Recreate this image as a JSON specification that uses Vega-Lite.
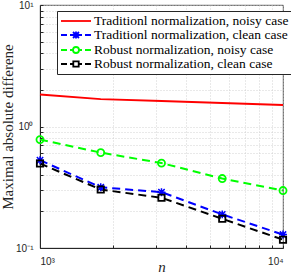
{
  "$schema": "https://vega.github.io/schema/vega-lite/v6.json",
  "width": 243,
  "height": 243,
  "autosize": "none",
  "padding": {"left": 40, "top": 5, "right": 8, "bottom": 32},
  "background": "white",
  "config": {
    "view": {"stroke": "#262626", "strokeWidth": 0.8},
    "axis": {
      "domainColor": "#262626",
      "tickColor": "#262626",
      "labelFont": "Liberation Sans",
      "labelFontSize": 10,
      "labelColor": "#262626",
      "gridColor": "#c8c8c8",
      "gridDash": [1, 2],
      "gridWidth": 0.8,
      "tickSize": -3,
      "labelPadding": 10,
      "titleFont": "Liberation Serif",
      "titleFontWeight": "normal",
      "titleFontSize": 15,
      "titleColor": "#262626"
    }
  },
  "data": {
    "values": [
      {"n": 1000, "v": 1.83, "s": "Traditionl normalization, noisy case"},
      {"n": 1778, "v": 1.68, "s": "Traditionl normalization, noisy case"},
      {"n": 3162, "v": 1.62, "s": "Traditionl normalization, noisy case"},
      {"n": 5623, "v": 1.56, "s": "Traditionl normalization, noisy case"},
      {"n": 10000, "v": 1.5, "s": "Traditionl normalization, noisy case"},
      {"n": 1000, "v": 0.528, "s": "Traditionl normalization, clean case"},
      {"n": 1778, "v": 0.316, "s": "Traditionl normalization, clean case"},
      {"n": 3162, "v": 0.288, "s": "Traditionl normalization, clean case"},
      {"n": 5623, "v": 0.189, "s": "Traditionl normalization, clean case"},
      {"n": 10000, "v": 0.129, "s": "Traditionl normalization, clean case"},
      {"n": 1000, "v": 0.78, "s": "Robust normalization, noisy case"},
      {"n": 1778, "v": 0.61, "s": "Robust normalization, noisy case"},
      {"n": 3162, "v": 0.5, "s": "Robust normalization, noisy case"},
      {"n": 5623, "v": 0.373, "s": "Robust normalization, noisy case"},
      {"n": 10000, "v": 0.297, "s": "Robust normalization, noisy case"},
      {"n": 1000, "v": 0.496, "s": "Robust normalization, clean case"},
      {"n": 1778, "v": 0.303, "s": "Robust normalization, clean case"},
      {"n": 3162, "v": 0.259, "s": "Robust normalization, clean case"},
      {"n": 5623, "v": 0.174, "s": "Robust normalization, clean case"},
      {"n": 10000, "v": 0.117, "s": "Robust normalization, clean case"}
    ]
  },
  "encoding": {
    "x": {
      "field": "n", "type": "quantitative",
      "scale": {"type": "log", "domain": [1000, 10000], "nice": false},
      "axis": {
        "values": [1000, 2000, 3000, 4000, 5000, 6000, 7000, 8000, 9000, 10000],
        "labelExpr": "datum.value == 1000 ? '10³' : datum.value == 10000 ? '10⁴' : ''",
        "labelPadding": 11,
        "title": "n",
        "titleFontStyle": "italic",
        "titleBaseline": "alphabetic",
        "titleY": 23
      }
    },
    "y": {
      "field": "v", "type": "quantitative",
      "scale": {"type": "log", "domain": [0.1, 10], "nice": false},
      "axis": {
        "values": [0.1, 0.2, 0.3, 0.4, 0.5, 0.6, 0.7, 0.8, 0.9, 1, 2, 3, 4, 5, 6, 7, 8, 9, 10],
        "labelExpr": "datum.value == 1 ? '10⁰' : datum.value == 10 ? '10¹' : datum.value < 0.11 ? '10⁻¹' : ''",
        "title": "Maximal absolute differene",
        "titleBaseline": "alphabetic",
        "titleX": -28
      }
    }
  },
  "layer": [
    {
      "transform": [{"filter": "datum.s == 'Traditionl normalization, noisy case'"}],
      "mark": {"type": "line", "strokeWidth": 2, "color": "#ff0000"}
    },
    {
      "transform": [{"filter": "datum.s == 'Traditionl normalization, clean case'"}],
      "mark": {"type": "line", "strokeWidth": 2, "color": "#0000ff", "strokeDash": [8, 5]}
    },
    {
      "transform": [{"filter": "datum.s == 'Robust normalization, noisy case'"}],
      "mark": {"type": "line", "strokeWidth": 2, "color": "#00ff00", "strokeDash": [8, 5]}
    },
    {
      "transform": [{"filter": "datum.s == 'Robust normalization, clean case'"}],
      "mark": {"type": "line", "strokeWidth": 2, "color": "#000000", "strokeDash": [8, 5]}
    },
    {
      "transform": [{"filter": "datum.s == 'Traditionl normalization, clean case'"}],
      "mark": {"type": "point", "filled": false, "opacity": 1, "strokeWidth": 1.5, "size": 40, "color": "#0000ff",
        "shape": "M-1,-1L1,1M-1,1L1,-1M0,-1.25V1.25M-1.25,0H1.25"}
    },
    {
      "transform": [{"filter": "datum.s == 'Robust normalization, noisy case'"}],
      "mark": {"type": "point", "filled": false, "opacity": 1, "strokeWidth": 1.8, "size": 50, "shape": "circle", "color": "#00ff00"}
    },
    {
      "transform": [{"filter": "datum.s == 'Robust normalization, clean case'"}],
      "mark": {"type": "point", "filled": false, "opacity": 1, "strokeWidth": 1.8, "size": 40, "shape": "square", "color": "#000000"}
    },
    {
      "mark": {"type": "point", "filled": false, "opacity": 0, "strokeWidth": 1.8},
      "encoding": {
        "color": {
          "field": "s", "type": "nominal",
          "scale": {
            "domain": ["Traditionl normalization, noisy case", "Traditionl normalization, clean case", "Robust normalization, noisy case", "Robust normalization, clean case"],
            "range": ["#ff0000", "#0000ff", "#00ff00", "#000000"]
          },
          "legend": {
            "title": null,
            "orient": "none",
            "legendX": 17,
            "legendY": 6,
            "symbolSize": 144,
            "symbolStrokeWidth": 1.8,
            "symbolOpacity": 1,
            "symbolFillColor": "transparent",
            "labelFont": "Liberation Serif",
            "labelFontSize": 13.5,
            "labelColor": "#000000",
            "labelLimit": 300,
            "strokeColor": "#262626",
            "fillColor": "white",
            "padding": 3,
            "rowPadding": -1.5,
            "labelOffset": 20
          }
        },
        "shape": {
          "field": "s", "type": "nominal",
          "scale": {
            "domain": ["Traditionl normalization, noisy case", "Traditionl normalization, clean case", "Robust normalization, noisy case", "Robust normalization, clean case"],
            "range": [
              "M-1,0H4",
              "M-1,0H0M0.5,0H2.5M3,0H4M1,-0.5L2,0.5M1,0.5L2,-0.5M1.5,-0.6V0.6",
              "M-1,0H0M0.5,0H1M2,0H2.5M3,0H4M2,0A0.5,0.5 0 1,1 1,0A0.5,0.5 0 1,1 2,0",
              "M-1,0H0M0.5,0H1.05M1.95,0H2.5M3,0H4M1.05,-0.45H1.95V0.45H1.05Z"
            ]
          }
        }
      }
    }
  ]
}
